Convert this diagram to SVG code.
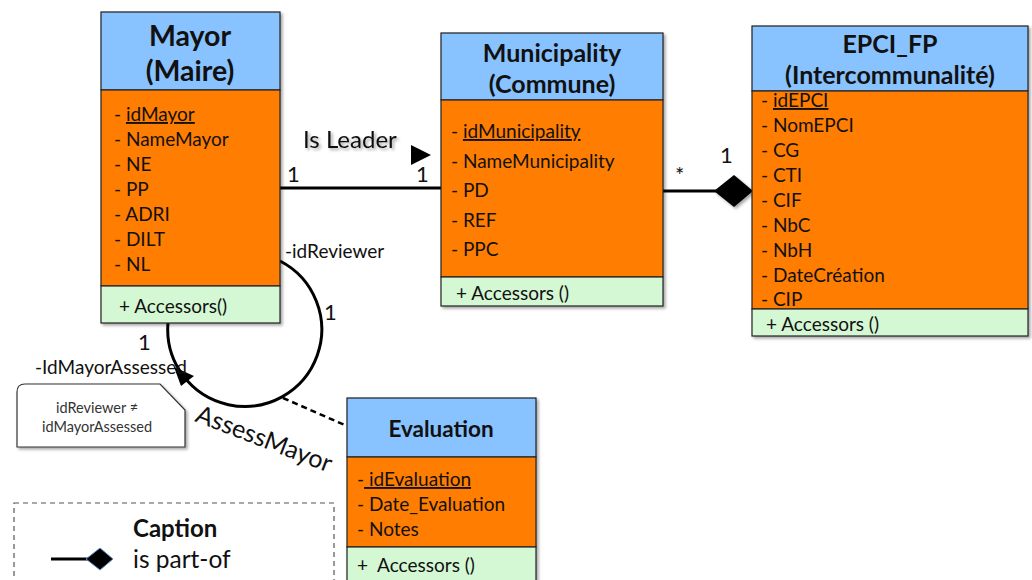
<svg xmlns="http://www.w3.org/2000/svg" width="1032" height="580" viewBox="0 0 1032 580">
<defs>
<style>
.hd{fill:#88C2FF;stroke:#222;stroke-width:1.2}
.at{fill:#FF7D00;stroke:#222;stroke-width:1.2}
.op{fill:#D4F8D4;stroke:#222;stroke-width:1.2}
.tt{font-family:Lato,"Liberation Sans",sans-serif;font-weight:bold;font-size:25px;fill:#111;text-anchor:middle}
.tx{font-family:Lato,"Liberation Sans",sans-serif;font-size:19px;fill:#111}
.lb{font-family:Lato,"Liberation Sans",sans-serif;font-size:22px;fill:#111}
.nt{font-family:Lato,"Liberation Sans",sans-serif;font-size:14.5px;fill:#333;text-anchor:middle}
.ln{stroke:#000;stroke-width:3;fill:none}
</style>
<filter id="sh" x="-10%" y="-10%" width="120%" height="120%"><feDropShadow dx="2" dy="2" stdDeviation="1.5" flood-color="#000" flood-opacity="0.35"/></filter>
</defs>
<rect width="1032" height="580" fill="#fff"/>

<g id="connectors">
<line class="ln" x1="280" y1="188" x2="441" y2="188"/>
<polygon points="411,145 431,155 411,165" fill="#000"/>
<text class="lb" x="303" y="148" style="font-size:24px;filter:url(#sh)">Is Leader</text>
<text class="lb" x="287" y="182">1</text>
<text class="lb" x="416" y="182">1</text>
<line class="ln" x1="663" y1="191" x2="716" y2="191"/>
<polygon points="714,191 734,175 753,191 734,207" fill="#000" filter="url(#sh)"/>
<text class="lb" x="675" y="183">*</text>
<text class="lb" x="720" y="163">1</text>
<path class="ln" d="M280,261 A77,77 0 1 1 168,323"/>
<polygon points="174,367 194,376 181,386" fill="#000"/>
<text class="tx" x="285" y="258">-idReviewer</text>
<text class="lb" x="324" y="320">1</text>
<text class="lb" x="138" y="350">1</text>
<text class="tx" x="35" y="374">-IdMayorAssessed</text>
<line x1="283" y1="398" x2="347" y2="426" stroke="#000" stroke-width="2.5" stroke-dasharray="6,4"/>
<text class="lb" style="font-size:25px" transform="translate(194,421) rotate(21)">AssessMayor</text>
</g>

<g id="note">
<path d="M17,447 V392 Q17,384 25,384 H160 L185,410 V447 Z" fill="#fff" stroke="#333" stroke-width="1.2" filter="url(#sh)"/>
<text class="nt" x="97" y="413">idReviewer ≠</text>
<text class="nt" x="97" y="432">idMayorAssessed</text>
</g>

<g id="mayor" filter="url(#sh)">
<rect class="hd" x="101" y="12" width="179" height="78"/>
<rect class="at" x="101" y="90" width="179" height="196"/>
<rect class="op" x="101" y="286" width="179" height="37"/>
</g>
<g id="mayor-text">
<text class="tt" x="190" y="46" style="font-size:28.5px">Mayor</text>
<text class="tt" x="190" y="81" style="font-size:28.5px">(Maire)</text>
<text class="tx" x="114" y="121">- <tspan text-decoration="underline">idMayor</tspan></text>
<text class="tx" x="114" y="146">- NameMayor</text>
<text class="tx" x="114" y="171">- NE</text>
<text class="tx" x="114" y="196">- PP</text>
<text class="tx" x="114" y="221">- ADRI</text>
<text class="tx" x="114" y="246">- DILT</text>
<text class="tx" x="114" y="271">- NL</text>
<text class="tx" x="119" y="313">+ Accessors()</text>
</g>

<g id="municipality" filter="url(#sh)">
<rect class="hd" x="441" y="33" width="222" height="67"/>
<rect class="at" x="441" y="100" width="222" height="177"/>
<rect class="op" x="441" y="277" width="222" height="29"/>
</g>
<g id="municipality-text">
<text class="tt" x="552" y="62">Municipality</text>
<text class="tt" x="552" y="93">(Commune)</text>
<text class="tx" x="451" y="138">- <tspan text-decoration="underline">idMunicipality</tspan></text>
<text class="tx" x="451" y="168">- NameMunicipality</text>
<text class="tx" x="451" y="197">- PD</text>
<text class="tx" x="451" y="227">- REF</text>
<text class="tx" x="451" y="256">- PPC</text>
<text class="tx" x="456" y="300">+ Accessors ()</text>
</g>

<g id="epci" filter="url(#sh)">
<rect class="hd" x="752" y="26" width="276" height="65"/>
<rect class="at" x="752" y="91" width="276" height="218"/>
<rect class="op" x="752" y="309" width="276" height="27"/>
</g>
<g id="epci-text">
<text class="tt" x="890" y="53">EPCI_FP</text>
<text class="tt" x="890" y="84">(Intercommunalité)</text>
<text class="tx" x="761" y="107">- <tspan text-decoration="underline">idEPCI</tspan></text>
<text class="tx" x="761" y="132">- NomEPCI</text>
<text class="tx" x="761" y="157">- CG</text>
<text class="tx" x="761" y="182">- CTI</text>
<text class="tx" x="761" y="207">- CIF</text>
<text class="tx" x="761" y="232">- NbC</text>
<text class="tx" x="761" y="257">- NbH</text>
<text class="tx" x="761" y="282">- DateCréation</text>
<text class="tx" x="761" y="306">- CIP</text>
<text class="tx" x="766" y="331">+ Accessors ()</text>
</g>

<g id="evaluation" filter="url(#sh)">
<rect class="hd" x="347" y="398" width="189" height="59"/>
<rect class="at" x="347" y="457" width="189" height="90"/>
<rect class="op" x="347" y="547" width="189" height="40"/>
</g>
<g id="evaluation-text">
<text class="tt" x="441" y="437" style="font-size:22.5px">Evaluation</text>
<text class="tx" x="357" y="486">-<tspan text-decoration="underline"> idEvaluation</tspan></text>
<text class="tx" x="357" y="511">- Date_Evaluation</text>
<text class="tx" x="357" y="536">- Notes</text>
<text class="tx" x="357" y="572" xml:space="preserve">+  Accessors ()</text>
</g>

<g id="caption">
<rect x="14" y="503" width="320" height="90" fill="none" stroke="#555" stroke-width="1.2" stroke-dasharray="5,4"/>
<text class="lb" x="133" y="537" style="font-size:24px;font-weight:bold">Caption</text>
<line x1="51" y1="559" x2="90" y2="559" stroke="#000" stroke-width="3"/>
<polygon points="86,559 100,548 113,559 100,570" fill="#000" stroke="#5B8FD0" stroke-width="1"/>
<text class="lb" x="133" y="568" style="font-size:24.5px">is part-of</text>
</g>
</svg>
